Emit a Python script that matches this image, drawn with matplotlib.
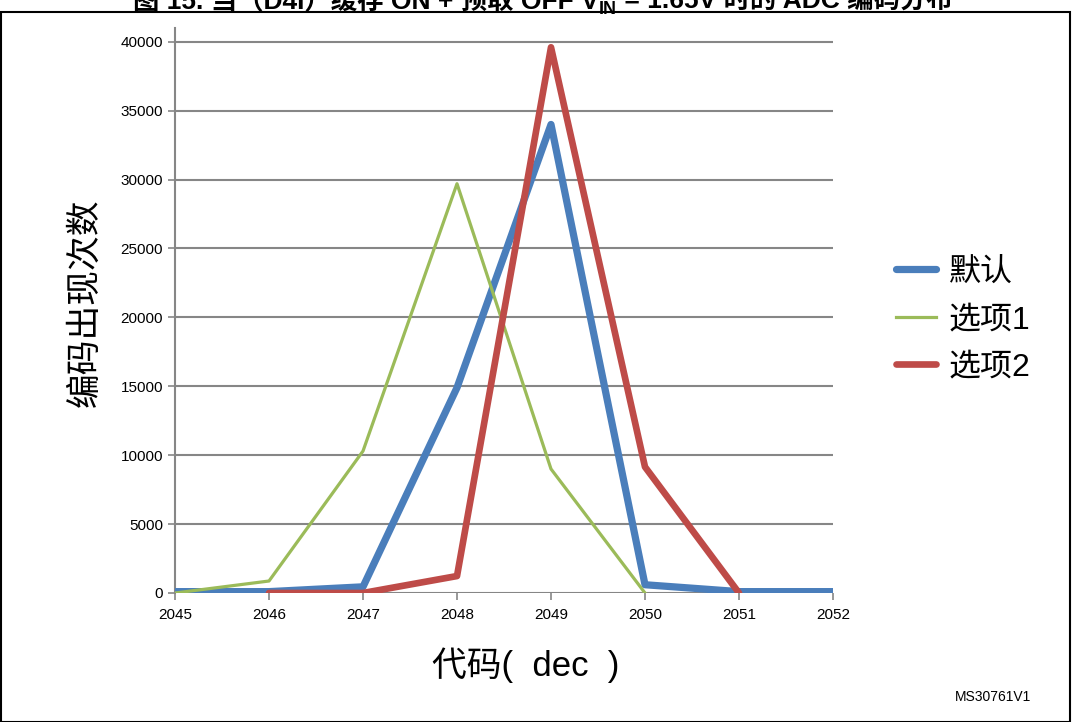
import matplotlib.pyplot as plt
import matplotlib.patches as mpatches

plt.rcParams['font.family'] = ['Liberation Sans', 'Noto Sans CJK SC', 'DejaVu Sans']

# ADC code values (x axis) and counts per option
codes = [2045, 2046, 2047, 2048, 2049, 2050, 2051, 2052]
default_counts = [100, 100, 450, 14900, 34000, 600, 100, 100]
opt1_codes = [2045, 2046, 2047, 2048, 2049, 2050]
opt1_counts = [0, 870, 10300, 29700, 9000, 0]
opt2_codes = [2046, 2047, 2048, 2049, 2050, 2051]
opt2_counts = [0, 0, 1230, 39600, 9150, 0]
y_ticks = [0, 5000, 10000, 15000, 20000, 25000, 30000, 35000, 40000]

W, H = 1072, 722
fig = plt.figure(figsize=(W / 100, H / 100), dpi=100)
ax = fig.add_axes([175 / W, 1 - 593 / H, (833 - 175) / W, (593 - 28) / H])

grid_color = '#868686'
for y in y_ticks:
    ax.axhline(y, color=grid_color, linewidth=1.5, zorder=1)

ax.plot(codes, default_counts, color='#4A7EBB', linewidth=5.2,
        solid_joinstyle='round', solid_capstyle='round', label='默认', zorder=3)
ax.plot(opt1_codes, opt1_counts, color='#9BBB59', linewidth=2.3,
        solid_joinstyle='round', label='选项1', zorder=4)
ax.plot(opt2_codes, opt2_counts, color='#BE4B48', linewidth=4.8,
        solid_joinstyle='round', solid_capstyle='round', label='选项2', zorder=5)

ax.set_xlim(2045, 2052)
ax.set_ylim(0, 41000)
ax.set_xticks(codes)
ax.set_yticks(y_ticks)
ax.tick_params(axis='both', labelsize=11, color=grid_color, length=5, width=1.2)
ax.tick_params(axis='x', pad=6)
for side in ['top', 'right', 'bottom']:
    ax.spines[side].set_visible(False)
ax.spines['left'].set_color(grid_color)
ax.spines['left'].set_linewidth(1.5)

fig.text(85 / W, 1 - 303 / H, '编码出现次数', rotation=90, ha='center', va='center', fontsize=25)
fig.text(526 / W, 1 - 665 / H, '代码(  dec  )', ha='center', va='center', fontsize=25)

ax.legend(loc='center left', bbox_to_anchor=(1.052, 0.483), frameon=False,
          fontsize=23, handlelength=1.25, labelspacing=0.55, handletextpad=0.4)

# figure frame
fig.patches.append(mpatches.Rectangle((0.001, 0), 0.997, 1 - 12 / H,
                                      transform=fig.transFigure, fill=False,
                                      edgecolor='black', linewidth=1.5))

# title (cropped at the top in the reference), built from pieces for the subscript
renderer = fig.canvas.get_renderer()
pieces = [('图 15. 当（D4I）缓存 ON + 预取 OFF V', 19, 0),
          ('IN', 13, -5),
          (' = 1.65V 时的 ADC 编码分布', 19, 0)]
texts = []
for s, size, dy in pieces:
    t = fig.text(0, 1 - (9 - dy) / H, s, ha='left', va='baseline',
                 fontsize=size, fontweight='bold')
    texts.append(t)
widths = [t.get_window_extent(renderer).width for t in texts]
x = 543 - sum(widths) / 2
for t, w in zip(texts, widths):
    t.set_x(x / W)
    x += w

fig.text(993 / W, 1 - 697 / H, 'MS30761V1', ha='center', va='center', fontsize=10)

fig.savefig('out.png', dpi=100)
